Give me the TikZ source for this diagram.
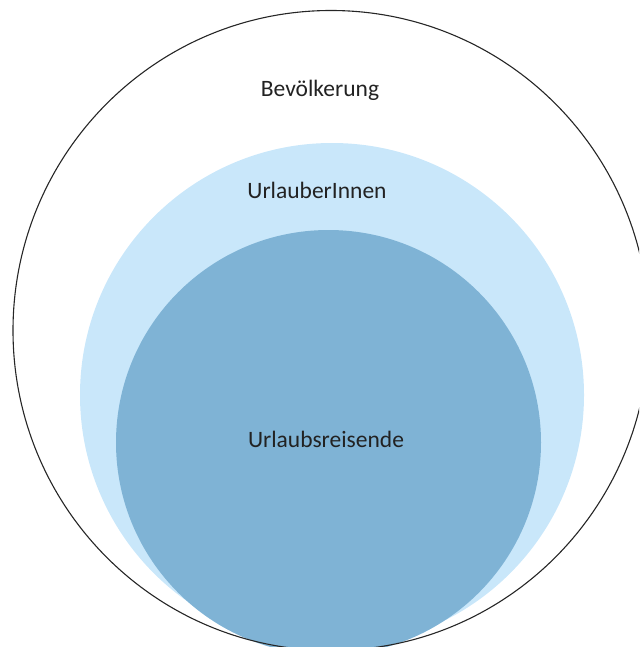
\documentclass[tikz,border=0pt]{standalone}
\usepackage{fontspec}
\setmainfont{Carlito}
\definecolor{lightblue}{HTML}{C9E7FA}
\definecolor{midblue}{HTML}{7FB3D5}
\definecolor{labeltext}{HTML}{222222}
\begin{document}
\begin{tikzpicture}[x=1pt,y=-1pt,
  ring/.style={draw=black!85,line width=1.1pt},
  setlabel/.style={anchor=base,inner sep=0pt,text=labeltext,font=\fontsize{23.5}{28}\selectfont}]
  \useasboundingbox (0,0) rectangle (639,647);
  \clip (0,0) rectangle (639,647);
  % holiday makers and holiday travellers, nested inside the population
  \fill[lightblue] (332,395) circle[radius=252];
  \fill[midblue] (328.5,442.5) circle[radius=212.5];
  \draw[ring] (331,330.5) ellipse[x radius=318,y radius=320];
  \node[setlabel] (pop) at (320,97) {Bevölkerung};
  \node[setlabel] (hol) at (317,198) {UrlauberInnen};
  \node[setlabel] (trav) at (326,447) {Urlaubsreisende};
\end{tikzpicture}
\end{document}
